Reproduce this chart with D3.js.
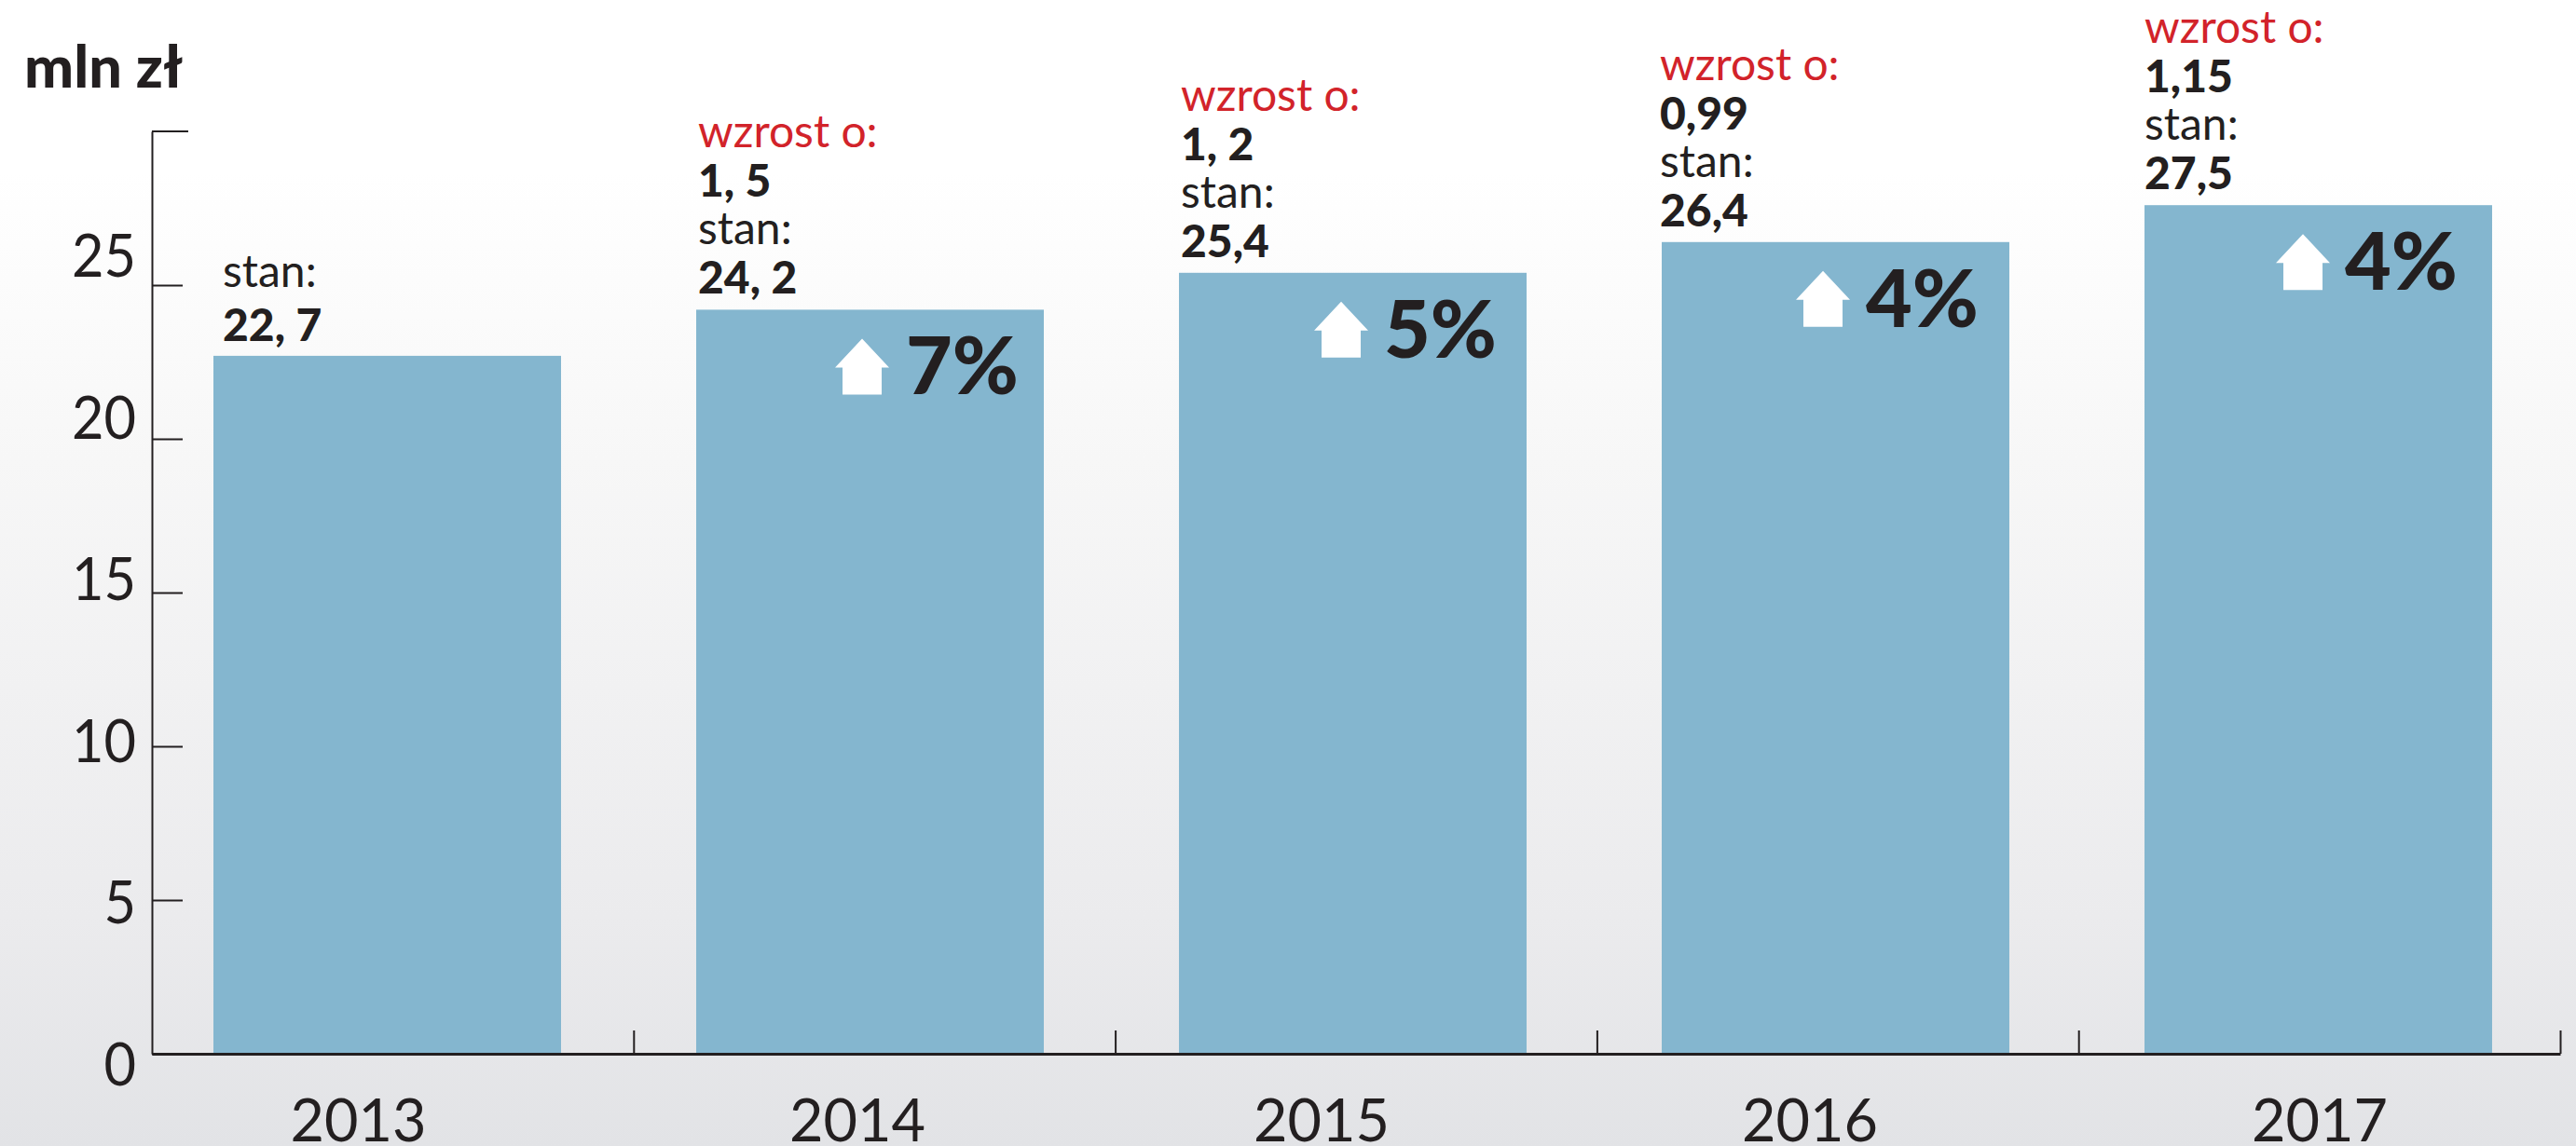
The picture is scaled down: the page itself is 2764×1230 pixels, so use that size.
<!DOCTYPE html>
<html>
<head>
<meta charset="utf-8">
<script src="https://d3js.org/d3.v7.min.js"></script>
<style>
  html, body { margin: 0; padding: 0; background: #fff; }
  svg { display: block; }
  text { font-family: Lato, sans-serif; fill: #231f20; }
  .axis path, .axis line { stroke: #231f20; stroke-width: 2; }
  .axis.bottom path { stroke-width: 3; }
</style>
</head>
<body>
<div id="grafico"></div>
<script>
// datos
var years = ["2013", "2014", "2015", "2016", "2017"];
var values = [22.7, 24.2, 25.4, 26.4, 27.6];
var stanLabels = ["22, 7", "24, 2", "25,4", "26,4", "27,5"];
var wzrostLabels = [null, "1, 5", "1, 2", "0,99", "1,15"];
var pctLabels = [null, "7%", "5%", "4%", "4%"];
var yTicks = [0, 5, 10, 15, 20, 25];
var yMax = 30;
var unit = "mln zł";

var width = 2764, height = 1230;

// small per-bar nudges, the original was laid out by hand
var yearDx = [-31, -13.5, -33.5, -27.5, 1.5];
var labelInset = [10, 2, 2, -2, 0];
var arrowInset = [0, 149, 145, 144, 141];
var pctInset = [0, 27, 32, 33, 37];

var svg = d3.select("#grafico").append("svg")
  .attr("width", width)
  .attr("height", height);

var grad = svg.append("defs").append("linearGradient")
  .attr("id", "fondo")
  .attr("x1", 0).attr("y1", 0).attr("x2", 0).attr("y2", 1);
grad.append("stop").attr("offset", 0.15).attr("stop-color", "#ffffff");
grad.append("stop").attr("offset", 0.4).attr("stop-color", "#f7f7f7");
grad.append("stop").attr("offset", 0.8).attr("stop-color", "#ebebed");
grad.append("stop").attr("offset", 1).attr("stop-color", "#e2e3e6");

svg.append("rect")
  .attr("width", width)
  .attr("height", height)
  .attr("fill", "url(#fondo)");

var y = d3.scaleLinear().domain([0, yMax]).range([1131, 141]);
var x = d3.scaleBand().domain(years)
  .range([156.5, 2746.5])
  .paddingInner(0.28)
  .paddingOuter(0.14);
// the bottom ticks sit on their own even division of the axis
var xTick = d3.scaleLinear().domain([0, years.length]).range([163, 2747]);
// the y labels are spaced a bit wider than the ticks
var yLabel = d3.scaleLinear().domain([0, 25]).range([1165, 297]);

// barras
svg.selectAll(".bar")
  .data(years)
  .enter()
  .append("rect")
  .attr("class", "bar")
  .attr("x", function(d) { return x(d); })
  .attr("y", function(d, i) { return y(values[i]); })
  .attr("width", x.bandwidth())
  .attr("height", function(d, i) { return y(0) - y(values[i]); })
  .attr("fill", "#84b6cf");

// eje y
var yAxis = svg.append("g")
  .attr("class", "axis")
  .attr("transform", "translate(163,0)")
  .call(d3.axisRight(y).tickValues(yTicks).tickSize(33).tickSizeOuter(0).tickFormat(""));
yAxis.selectAll("text").remove();
yAxis.append("line")
  .attr("x1", 0).attr("x2", 39)
  .attr("y1", y(yMax)).attr("y2", y(yMax));

// eje x
var xAxis = svg.append("g")
  .attr("class", "axis bottom")
  .attr("transform", "translate(0," + y(0) + ")")
  .call(d3.axisTop(xTick).tickValues([1, 2, 3, 4, 5]).tickSize(25).tickSizeOuter(0).tickFormat(""));
xAxis.selectAll("text").remove();

svg.selectAll(".ylabel")
  .data(yTicks)
  .enter()
  .append("text")
  .attr("class", "ylabel")
  .attr("x", 146)
  .attr("y", function(d) { return yLabel(d); })
  .attr("text-anchor", "end")
  .attr("font-size", 64)
  .attr("font-weight", 400)
  .attr("textLength", function(d) { return String(d).length * 34.5; })
  .attr("lengthAdjust", "spacingAndGlyphs")
  .text(function(d) { return d; });

svg.selectAll(".year")
  .data(years)
  .enter()
  .append("text")
  .attr("class", "year")
  .attr("x", function(d, i) { return x(d) + x.bandwidth() / 2 + yearDx[i]; })
  .attr("y", 1225)
  .attr("text-anchor", "middle")
  .attr("font-size", 64)
  .attr("font-weight", 400)
  .attr("textLength", 146)
  .attr("lengthAdjust", "spacingAndGlyphs")
  .text(function(d) { return d; });

svg.append("text")
  .attr("x", 26)
  .attr("y", 94)
  .attr("font-size", 63)
  .attr("font-weight", 900)
  .text(unit);

// textos sobre cada barra
years.forEach(function(year, i) {
  var left = x(year) + labelInset[i];
  var top = y(values[i]);

  if (wzrostLabels[i] === null) {
    svg.append("text").attr("x", left).attr("y", top - 74)
      .attr("font-size", 48).attr("font-weight", 400).text("stan:");
    svg.append("text").attr("x", left).attr("y", top - 16)
      .attr("font-size", 48).attr("font-weight", 900).text(stanLabels[i]);
    return;
  }

  svg.append("text").attr("x", left).attr("y", top - 174)
    .attr("font-size", 48).attr("font-weight", 400)
    .style("fill", "#d2232a").text("wzrost o:");
  svg.append("text").attr("x", left).attr("y", top - 121)
    .attr("font-size", 48).attr("font-weight", 900).text(wzrostLabels[i]);
  svg.append("text").attr("x", left).attr("y", top - 70)
    .attr("font-size", 48).attr("font-weight", 400).text("stan:");
  svg.append("text").attr("x", left).attr("y", top - 17)
    .attr("font-size", 48).attr("font-weight", 900).text(stanLabels[i]);

  // flecha blanca y porcentaje
  var ax = x(year) + arrowInset[i];
  var arrow = [[29, 31], [58, 62], [50, 62], [50, 91], [8, 91], [8, 62], [0, 62]];
  svg.append("polygon")
    .attr("points", arrow.map(function(p) { return (ax + p[0]) + "," + (top + p[1]); }).join(" "))
    .attr("fill", "#ffffff");

  svg.append("text")
    .attr("x", x(year) + x.bandwidth() - pctInset[i])
    .attr("y", top + 91)
    .attr("text-anchor", "end")
    .attr("font-size", 86)
    .attr("font-weight", 900)
    .text(pctLabels[i]);
});
</script>
</body>
</html>
